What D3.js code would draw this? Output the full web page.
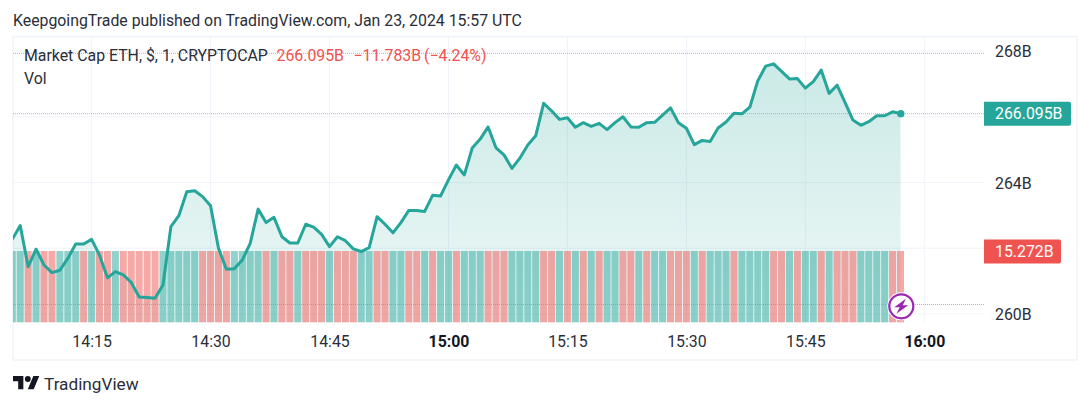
<!DOCTYPE html>
<html><head><meta charset="utf-8">
<script src="https://cdnjs.cloudflare.com/ajax/libs/d3/7.8.5/d3.min.js"></script>
<style>
html,body{margin:0;padding:0;background:#fff;overflow:hidden}
svg{display:block}
text{font-family:Roboto,sans-serif}
</style></head><body>
<svg id="c" width="1090" height="407"></svg>
<script>
const startMinute = "2024-01-23T14:05:00Z";
const closes = [262.27,262.69,261.44,261.97,261.49,261.26,261.33,261.69,262.13,262.13,
262.27,261.79,261.10,261.29,261.19,260.96,260.52,260.50,260.48,260.88,
262.66,262.99,263.72,263.75,263.57,263.29,262.00,261.36,261.38,261.64,
262.15,263.19,262.78,262.94,262.35,262.16,262.16,262.73,262.64,262.42,
262.05,262.35,262.23,261.98,261.90,262.02,262.96,262.73,262.47,262.78,
263.15,263.15,263.12,263.61,263.59,264.08,264.53,264.23,265.05,265.32,
265.69,265.05,264.84,264.43,264.74,265.14,265.42,266.41,266.18,265.92,
265.97,265.68,265.82,265.71,265.80,265.61,265.82,266.00,265.69,265.68,
265.82,265.83,266.05,266.27,265.82,265.65,265.15,265.28,265.25,265.66,
265.84,266.11,266.09,266.29,267.09,267.54,267.61,267.38,267.15,267.16,
266.87,267.07,267.42,266.71,266.96,266.44,265.90,265.74,265.85,266.03,
266.03,266.15,266.095];
const volumeDirections = "ggrgrrgggrgrrgrrrrrgggggrrrrggggrgrrg"+"rrrgrrrgg"+"rrggrrgrggrgggrrrggggrrgrgrg"+"rggrrgrggrrrgrgggrggggrrgrggrgrrrggggr";
const priceTicks = [260,264,268];
const priceGrid = [260,262,264,266,268];
const timeTicks = ["14:15","14:30","14:45","15:00","15:15","15:30","15:45","16:00"];
const lastPrice = 266.095, lastVolume = "15.272B";
const dottedPrices = [267.93,260.29];
const legendName = "Market Cap ETH, $, 1, CRYPTOCAP";
const legendValues = ["266.095B","−11.783B","(−4.24%)"];
const header = "KeepgoingTrade published on TradingView.com, Jan 23, 2024 15:57 UTC";

const TEAL="#26a69a", RED="#ef5350", GRID="#f0f3fa", INK="#2a2e39", FS=15.85;
const t0=new Date(startMinute);
const times=closes.map((_,i)=>new Date(+t0+i*60000));
const tick=s=>new Date(`2024-01-23T${s}:00Z`);

const svg=d3.select("#c");
const L=13,R=984,T=37,B=322;
const x=d3.scaleUtc().domain([tick("14:15"),tick("16:00")]).range([91.6,924.3]);
const y=d3.scaleLinear().domain([260,268]).range([314,51]);
const vol=d3.scaleLinear().domain([0,15.272]).range([322.3,251]);

const defs=svg.append("defs");
defs.append("clipPath").attr("id","pane").append("rect").attr("x",L).attr("y",T).attr("width",R-L).attr("height",B-T+1);
const grad=defs.append("linearGradient").attr("id","ag").attr("gradientUnits","userSpaceOnUse")
 .attr("x1",0).attr("x2",0).attr("y1",y(d3.max(closes))).attr("y2",B);
grad.append("stop").attr("offset",0).attr("stop-color",TEAL).attr("stop-opacity",.24);
grad.append("stop").attr("offset",1).attr("stop-color",TEAL).attr("stop-opacity",.08);

svg.append("text").attr("x",13).attr("y",26).attr("font-size",FS).attr("fill",INK).text(header);

// frame
svg.append("rect").attr("x",13).attr("y",36.5).attr("width",1064).attr("height",323.5).attr("fill","none").attr("stroke",GRID).attr("stroke-width",1.5);

const pane=svg.append("g").attr("clip-path","url(#pane)");
// grid
pane.selectAll(".v").data(timeTicks).join("line").attr("x1",d=>x(tick(d))).attr("x2",d=>x(tick(d))).attr("y1",T).attr("y2",B).attr("stroke",GRID);
pane.selectAll(".h").data(priceGrid).join("line").attr("x1",L).attr("x2",R).attr("y1",d=>y(d)).attr("y2",d=>y(d)).attr("stroke",GRID);
// area
pane.append("path").datum(closes).attr("fill","url(#ag)")
 .attr("d",d3.area().x((d,i)=>x(times[i])).y0(vol(0)).y1(d=>y(d)));
// volume bars
pane.selectAll(".bar").data(closes).join("rect")
 .attr("x",(d,i)=>x(times[i])-3.5).attr("width",7)
 .attr("y",vol(15.272)).attr("height",vol(0)-vol(15.272))
 .attr("fill",(d,i)=>volumeDirections[i]==="g"?TEAL:RED).attr("fill-opacity",.5);
// dotted lines
pane.selectAll(".dot").data(dottedPrices).join("line").attr("x1",L).attr("x2",R).attr("y1",d=>y(d)).attr("y2",d=>y(d))
 .attr("stroke","#9598a1").attr("stroke-dasharray","1 1").attr("opacity",.75);
pane.append("line").attr("x1",L).attr("x2",R).attr("y1",y(lastPrice)).attr("y2",y(lastPrice)).attr("stroke",TEAL).attr("stroke-dasharray","1 1").attr("opacity",.45).attr("stroke-width",1.4);
// line
pane.append("path").datum(closes).attr("fill","none").attr("stroke",TEAL).attr("stroke-width",3).attr("stroke-linejoin","round")
 .attr("d",d3.line().x((d,i)=>x(times[i])).y(d=>y(d)));
pane.append("circle").attr("cx",x(times[times.length-1])+.3).attr("cy",y(lastPrice)).attr("r",3.7).attr("fill",TEAL);

// lightning
const bx=x(times[times.length-1])+.8, by=306.3;
const icon=svg.append("g").attr("transform",`translate(${bx},${by})`);
icon.append("circle").attr("r",14).attr("fill","#fff");
icon.append("circle").attr("r",12).attr("fill","#fff").attr("stroke","#9c27b0").attr("stroke-width",2.2);
icon.append("path").attr("fill","#9c27b0").attr("d","M4.5 -7.5 L-7 1 L-1.5 1 L-5 7.5 L7 -1 L1.5 -1 Z");

// axes
const yAxis=d3.axisRight(y).tickValues(priceTicks).tickSize(0).tickPadding(0).tickFormat(d=>d+"B");
const yg=svg.append("g").attr("transform","translate(995,0.8)").call(yAxis);
yg.select(".domain").remove();
yg.selectAll("text").attr("font-size",FS).attr("fill",INK).attr("font-family","Roboto,sans-serif");
const xAxis=d3.axisBottom(x).tickValues(timeTicks.map(tick)).tickSize(0).tickPadding(0).tickFormat(d3.utcFormat("%H:%M"));
const xg=svg.append("g").attr("transform","translate(0,336)").call(xAxis);
xg.select(".domain").remove();
xg.selectAll("text").attr("font-size",FS).attr("fill",d=>d.getUTCMinutes()===0?"#131722":INK)
 .attr("font-weight",d=>d.getUTCMinutes()===0?700:400).attr("font-family","Roboto,sans-serif");

// labels
function badge(cy,w,fill,txt){
 const h=24;
 svg.append("path").attr("fill",fill).attr("d",`M984 ${cy-h/2}H${984+w-2}a2 2 0 0 1 2 2V${cy+h/2-2}a2 2 0 0 1 -2 2H984Z`);
 svg.append("text").attr("x",995).attr("y",cy).attr("dy",".36em").attr("font-size",FS).attr("fill","#fff").text(txt);
}
badge(y(lastPrice),87,TEAL,lastPrice.toFixed(3)+"B");
badge(251.5,77,RED,lastVolume);

// legend
svg.append("text").attr("x",24).attr("y",61).attr("font-size",FS).attr("fill",INK).text(legendName);
svg.append("text").attr("x",24).attr("y",84).attr("font-size",FS).attr("fill",INK).text("Vol");
const legendX=[276.5,353.5,424];
svg.selectAll(".lv").data(legendValues).join("text").attr("x",(d,i)=>legendX[i]).attr("y",61).attr("font-size",FS).attr("fill",RED).text(d=>d);

// logo
const logo=svg.append("g").attr("transform","translate(13,373) scale(0.74)").attr("fill","#131722");
logo.append("path").attr("d","M14 22H7V11H0V4h14v18zM28 22h-8l7.5-18h8L28 22z");
logo.append("circle").attr("cx",20).attr("cy",8).attr("r",4);
svg.append("text").attr("x",44).attr("y",390).attr("font-size",17.2).attr("fill",INK).text("TradingView");
</script>
</body></html>
